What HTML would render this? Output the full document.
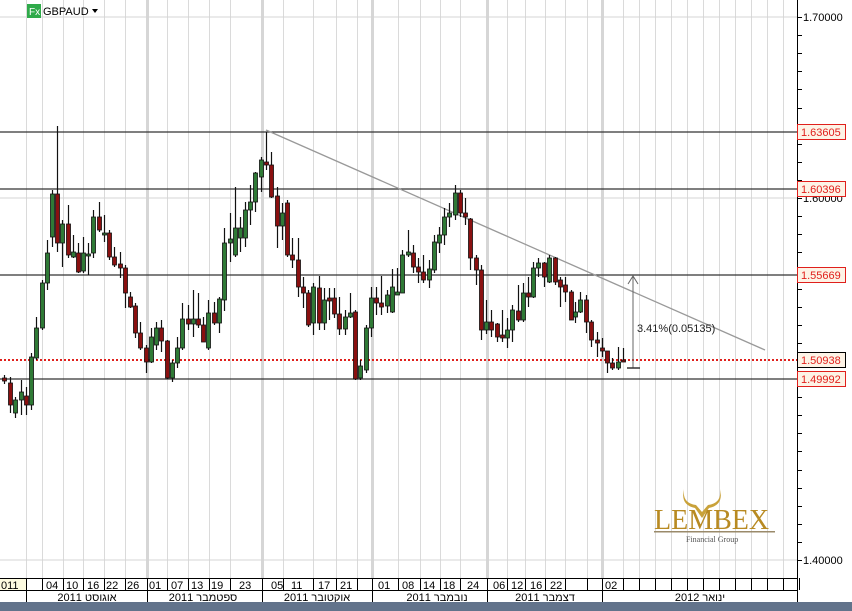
<!DOCTYPE html>
<html><head><meta charset="utf-8"><style>
body{margin:0;background:#fff;}
svg{display:block;font-family:"Liberation Sans",Arial,sans-serif;}
</style></head><body>
<svg id="s" width="852" height="611" xmlns="http://www.w3.org/2000/svg">
<rect width="852" height="611" fill="#fff"/>
<g id="grid"></g>
<g stroke="#d4d4d4" stroke-width="1">
<line x1="0" y1="17" x2="797" y2="17"/>
<line x1="0" y1="198" x2="797" y2="198"/>
<line x1="0" y1="560" x2="797" y2="560"/>
</g>
<g stroke="#333" stroke-width="1.2">
<line x1="0" y1="132" x2="797" y2="132"/>
<line x1="0" y1="189" x2="797" y2="189"/>
<line x1="0" y1="275" x2="797" y2="275"/>
<line x1="0" y1="379" x2="797" y2="379"/>
</g>
<line x1="0" y1="360" x2="797" y2="360" stroke="#e0201c" stroke-width="2" stroke-dasharray="2,2"/>
<line x1="266" y1="130" x2="765" y2="350" stroke="#999" stroke-width="1.3"/>
<g id="candles"></g>
<g stroke="#666" stroke-width="1" fill="none">
<line x1="633" y1="276" x2="633" y2="368"/>
<polyline points="628,284 633,276 638,284"/>
<line x1="627" y1="368" x2="640" y2="368" stroke="#333" stroke-width="1.5"/>
</g>
<text x="637" y="332" font-size="11" fill="#222">3.41%(0.05135)</text>
<g>
<path d="M684 489 Q680 505 695 508 L702 518 L709 508 Q724 505 720 489 Q722 503 708 505 L702 512 L696 505 Q682 503 684 489Z" fill="#c9a23a"/>
<text x="654" y="529" font-family="Liberation Serif,serif" font-size="28" fill="#b88a22">LEMBEX</text>
<rect x="654" y="531" width="121" height="1.5" fill="#9a8a6a"/>
<text x="686" y="542" font-family="Liberation Serif,serif" font-size="8" fill="#555">Financial Group</text>
</g>
<line x1="797.5" y1="0" x2="797.5" y2="578" stroke="#000" stroke-width="1"/>
<g id="ticks" stroke="#000"></g>
<text x="803" y="21" font-size="11" fill="#000">1.70000</text>
<text x="803" y="202" font-size="11" fill="#000">1.60000</text>
<text x="803" y="564" font-size="11" fill="#000">1.40000</text>
<g font-size="11" fill="#e0201c">
<rect x="797.5" y="124.5" width="48" height="15" fill="#fdf3e6" stroke="#e0201c"/><text x="801" y="136">1.63605</text>
<rect x="797.5" y="181.5" width="48" height="15" fill="#fdf3e6" stroke="#e0201c"/><text x="801" y="193">1.60396</text>
<rect x="797.5" y="267.5" width="48" height="15" fill="#fdf3e6" stroke="#e0201c"/><text x="801" y="279">1.55669</text>
<rect x="797.5" y="352.5" width="48" height="15" fill="#fdf3e6" stroke="#000"/><text x="801" y="364">1.50938</text>
<rect x="797.5" y="371.5" width="48" height="15" fill="#fdf3e6" stroke="#e0201c"/><text x="801" y="383">1.49992</text>
</g>
<rect x="27" y="4" width="14" height="14" fill="#2faa4a"/>
<text x="29" y="15" font-size="10" fill="#fff">Fx</text>
<text x="43" y="15" font-size="11" fill="#000">GBPAUD</text>
<polygon points="92,9 98,9 95,13" fill="#000"/>
<rect x="0" y="578" width="797" height="24" fill="#fff"/>
<rect x="0" y="578" width="26" height="12" fill="#fdfbe0"/>
<line x1="0" y1="578.5" x2="797" y2="578.5" stroke="#000"/>
<line x1="0" y1="590.5" x2="797" y2="590.5" stroke="#000"/>
<line x1="797.5" y1="578" x2="797.5" y2="602" stroke="#000"/>
<g id="bsep" stroke="#000"></g>
<g font-size="11" fill="#000" id="blab"></g>
<g font-size="11" fill="#000" font-family="Liberation Sans,'DejaVu Sans',sans-serif" text-anchor="middle">
<text x="87" y="601">2011 אוגוסט</text>
<text x="203" y="601">2011 ספטמבר</text>
<text x="317" y="601">2011 אוקטובר</text>
<text x="437" y="601">2011 נובמבר</text>
<text x="545" y="601">2011 דצמבר</text>
<text x="700" y="601">2012 ינואר</text>
</g>
<rect x="0" y="602" width="852" height="9" fill="#62738b"/>
</svg>
<script>
var NS="http://www.w3.org/2000/svg";
function el(p,t,a){var e=document.createElementNS(NS,t);for(var k in a)e.setAttribute(k,a[k]);document.getElementById(p).appendChild(e);return e;}
var seps=[26,42,63,83,104,125,147,167,188,209,230,262,283,313,336,357,372,398,420,440,460,487,507,525,545,565,587,602,623,639,655,671,687,703,719,735,751,767,783];
var thick={147:1,262:1,372:1,487:1,602:1};
seps.forEach(function(x){el("grid","line",{x1:x+.5,y1:0,x2:x+.5,y2:578,"stroke-width":thick[x]?3:1,stroke:thick[x]?"#d6d6d6":"#dadada"});});
for(var y=17;y<=577;y+=18.1){el("ticks","line",{x1:797,y1:Math.round(y)+.5,x2:802,y2:Math.round(y)+.5});}
var d=[[4,378,381,375,384],[10,383,405,377,413],[15,413,400,397,418],[21,400,392,380,415],[26,396,405,387,415],[31,405,357,353,410],[36,358,328,317,360],[42,328,283,280,330],[47,283,253,240,290],[52,237,194,190,247],[57,194,243,126,252],[62,243,224,220,267],[68,224,255,205,258],[73,257,252,235,258],[78,253,272,243,273],[83,271,253,237,273],[88,256,254,243,275],[93,253,217,210,258],[99,217,230,202,232],[104,235,233,215,242],[109,233,257,230,260],[114,257,265,247,267],[120,264,268,252,278],[125,268,293,265,308],[130,297,307,292,308],[135,306,333,303,338],[140,333,348,322,350],[146,348,362,345,373],[151,362,337,328,363],[156,345,328,322,350],[161,328,341,320,352],[167,341,378,340,379],[172,378,363,360,382],[177,363,348,337,368],[182,348,319,303,350],[188,319,324,305,330],[193,324,319,290,337],[198,319,325,293,328],[203,325,342,317,342],[208,348,313,300,350],[214,313,323,302,325],[219,323,299,297,333],[224,300,243,228,311],[230,243,239,213,262],[235,255,228,187,257],[240,238,228,217,252],[245,238,210,202,247],[250,210,202,185,225],[255,202,173,172,212],[261,177,160,157,192],[266,162,165,132,170],[271,165,197,152,198],[277,196,226,187,248],[282,226,213,203,240],[287,203,255,200,257],[292,255,260,238,268],[298,260,287,238,297],[303,287,293,277,308],[308,293,325,290,327],[313,323,287,283,335],[319,288,323,276,330],[324,323,300,288,330],[329,298,301,288,320],[334,298,314,288,318],[339,314,329,297,335],[345,329,317,310,335],[350,317,313,293,318],[355,312,379,310,380],[360,378,366,360,380],[366,370,328,325,373],[371,328,298,287,337],[376,298,303,287,315],[381,303,307,276,315],[387,306,295,290,313],[392,312,287,269,313],[397,295,292,268,295],[402,293,255,250,293],[408,255,252,230,257],[413,253,267,245,273],[418,267,272,258,283],[423,272,280,255,283],[429,280,269,260,288],[434,270,242,235,273],[439,243,235,227,253],[444,235,217,208,245],[449,217,213,203,227],[455,215,193,185,220],[460,193,213,190,217],[465,213,217,198,225],[470,219,258,218,270],[476,258,270,255,285],[481,270,330,265,340],[486,330,322,300,334],[491,322,330,310,337],[497,324,337,323,342],[502,335,338,310,342],[507,338,330,318,348],[512,330,310,305,342],[518,311,320,285,322],[523,320,293,283,322],[528,293,297,277,307],[533,297,268,262,298],[538,268,263,258,277],[544,263,277,262,287],[549,282,258,255,283],[555,258,282,257,285],[560,280,287,277,307],[565,285,292,277,302],[571,292,320,290,320],[575,317,312,302,323],[580,312,300,292,313],[586,300,322,295,333],[591,322,340,320,347],[597,340,343,332,357],[602,348,351,338,357],[607,351,363,352,373],[612,363,368,358,370],[618,368,362,347,370],[623,360,361,348,362]];
d.forEach(function(c){var x=c[0],o=c[1],cl=c[2],h=c[3],l=c[4];var up=cl<o;var t=Math.min(o,cl),b=Math.max(o,cl);if(b-t<2){b=t+2;}
el("candles","line",{x1:x+.5,y1:h,x2:x+.5,y2:l,stroke:"#111","stroke-width":1.2});
el("candles","rect",{x:x-1.5,y:t,width:4,height:b-t,fill:up?"#2f7a36":"#8a1010",stroke:"#111","stroke-width":0.8});});
seps.concat([799]).forEach(function(x){el("bsep","line",{x1:x+.5,y1:578,x2:x+.5,y2:590});});
[26,147,262,372,487,602].forEach(function(x){el("bsep","line",{x1:x+.5,y1:590,x2:x+.5,y2:602});});
var labs=[[1,"011"],[46,"04"],[66,"10"],[87,"16"],[106,"22"],[127,"26"],[149,"01"],[171,"07"],[191,"13"],[211,"19"],[239,"23"],[271,"05"],[291,"11"],[318,"17"],[340,"21"],[378,"01"],[402,"08"],[423,"14"],[443,"18"],[467,"24"],[493,"06"],[511,"12"],[530,"16"],[550,"22"],[605,"02"]];
labs.forEach(function(a){var t=el("blab","text",{x:a[0],y:589});t.textContent=a[1];});
</script>
</body></html>
